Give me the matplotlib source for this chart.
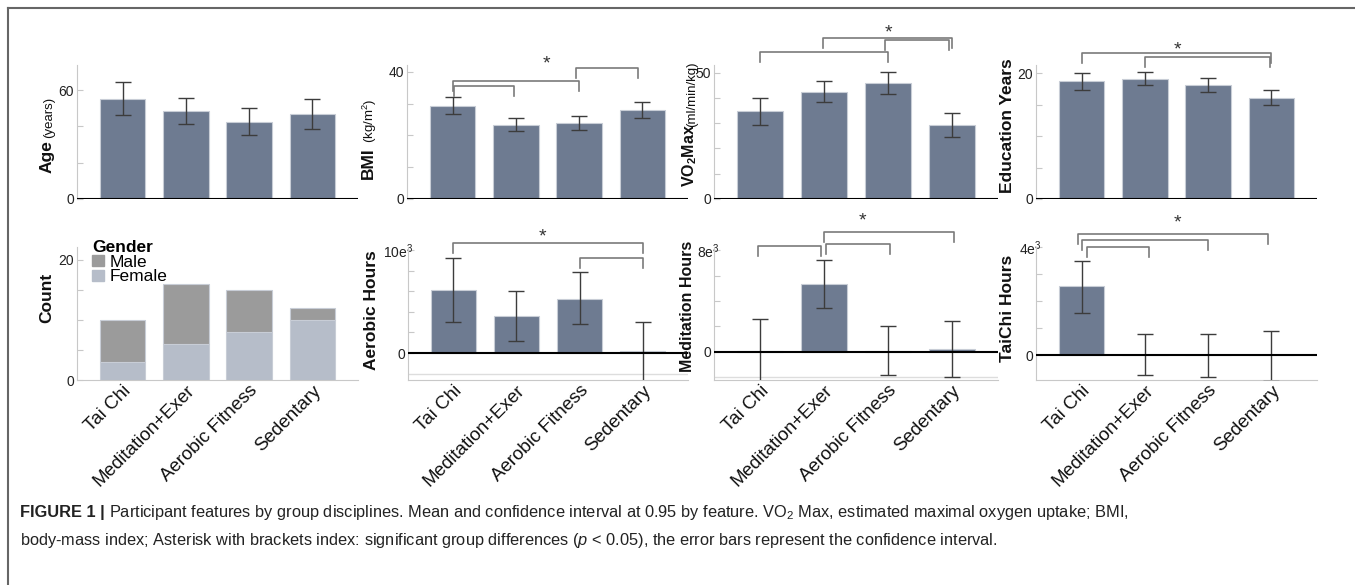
import numpy as np
import matplotlib
matplotlib.use('Agg')
import matplotlib.pyplot as plt
from matplotlib.patches import Patch
from matplotlib.transforms import ScaledTranslation

plt.rcParams['font.family'] = ['Liberation Sans', 'DejaVu Sans']
plt.rcParams['mathtext.fontset'] = 'custom'
plt.rcParams['mathtext.rm'] = 'Liberation Sans'
plt.rcParams['mathtext.it'] = 'Liberation Sans:italic'
plt.rcParams['mathtext.bf'] = 'Liberation Sans:bold'

# ---- data ----
groups = ['Tai Chi', 'Meditation+Exer', 'Aerobic Fitness', 'Sedentary']

age_mean = [55.0, 48.4, 42.4, 46.8]
age_lo = [46.2, 41.3, 35.2, 38.5]
age_hi = [64.4, 55.6, 50.1, 55.0]

bmi_mean = [29.3, 23.3, 23.9, 28.0]
bmi_lo = [26.8, 21.4, 21.7, 25.5]
bmi_hi = [32.1, 25.5, 26.1, 30.5]

vo2_mean = [34.7, 42.2, 45.7, 29.1]
vo2_lo = [29.2, 38.2, 41.7, 24.4]
vo2_hi = [39.8, 46.5, 50.4, 33.9]

edu_mean = [18.7, 19.0, 18.1, 16.0]
edu_lo = [17.3, 18.1, 17.0, 14.9]
edu_hi = [20.0, 20.2, 19.2, 17.3]

count_male = [7, 10, 7, 2]
count_female = [3, 6, 8, 10]

aerobic_mean = [6100, 3600, 5200, 150]
aerobic_lo = [3000, 1200, 2800, -2800]
aerobic_hi = [9200, 6000, 7900, 3000]

medit_mean = [100, 5300, 50, 200]
medit_lo = [-2400, 3450, -1800, -1950]
medit_hi = [2600, 7200, 2000, 2400]

taichi_mean = [2550, 20, 0, 0]
taichi_lo = [1570, -730, -790, -950]
taichi_hi = [3500, 800, 790, 900]

# significance brackets: (group a, group b, height) and asterisk (x, y)
bmi_pairs = [(0, 2, 37.2), (0.02, 0.97, 35.6), (1.95, 2.93, 41.3)]
bmi_star = (1.48, 42.5)
vo2_pairs = [(0, 2, 58.3), (0.98, 3, 63.8), (1.95, 2.95, 63.0)]
vo2_star = (2.0, 65.6)
edu_pairs = [(0, 3, 23.2), (1, 2.97, 22.6)]
edu_star = (1.52, 23.7)
aerobic_pairs = [(0, 3, 10680), (2, 3, 9220)]
aerobic_star = (1.42, 11300)
medit_pairs = [(-0.03, 0.95, 8310), (1.03, 2.03, 8470), (1.0, 3.03, 9410)]
medit_star = (1.6, 10250)
taichi_pairs = [(-0.06, 2.95, 4470), (0, 2.0, 4260), (0.08, 1.06, 4000)]
taichi_star = (1.52, 4900)

BAR = '#6e7b91'
EDGE = '#c8cdd6'
ERR = '#3c3c3c'
BRK = '#7a7a7a'
MALE = '#9b9b9b'
FEMALE = '#b6bdc9'
SPINE = '#c8c8c8'

W, H = 1355, 585
fig = plt.figure(figsize=(W / 100, H / 100), dpi=100)


def box(left, top, right, bottom):
    return [left / W, 1 - bottom / H, (right - left) / W, (bottom - top) / H]


def style_axes(ax, ylim, major, labels, minor):
    ax.set_xlim(-0.72, 3.72)
    ax.set_ylim(*ylim)
    for s in ['top', 'right']:
        ax.spines[s].set_visible(False)
    ax.spines['left'].set_color(SPINE)
    ax.spines['bottom'].set_color(SPINE)
    ax.set_yticks(major, labels)
    ax.set_yticks(minor, minor=True)
    ax.tick_params(axis='y', which='both', direction='in', length=4,
                   color=SPINE, width=0.8, labelsize=10, pad=2,
                   labelcolor='#222222')


def xlabels(ax):
    ax.set_xticks(np.arange(len(groups)), groups, rotation=45, ha='right',
                  rotation_mode='anchor', fontsize=13.5)
    ax.tick_params(axis='x', length=0, pad=1.5, labelcolor='#111111')


def bar_panel(rect, mean, lo, hi, ylim, major, labels, minor, bottom_row):
    ax = fig.add_axes(rect)
    x = np.arange(len(groups))
    mean = np.asarray(mean, dtype=float)
    lo = np.asarray(lo, dtype=float)
    hi = np.asarray(hi, dtype=float)
    ax.bar(x, mean, width=0.72, color=BAR, edgecolor=EDGE, linewidth=0.8,
           zorder=2)
    ax.errorbar(x, mean, yerr=[mean - lo, hi - mean], fmt='none', ecolor=ERR,
                elinewidth=1, capsize=6, capthick=1, zorder=3)
    ax.axhline(0, color='black', lw=1.5, zorder=4)
    style_axes(ax, ylim, major, labels, minor)
    if bottom_row:
        xlabels(ax)
        # the exponent label pokes past the spine, as in the original
        top_lab = ax.get_yticklabels()[-1]
        top_lab.set_transform(top_lab.get_transform() +
                              ScaledTranslation(0.08, 0, fig.dpi_scale_trans))
    else:
        ax.spines['bottom'].set_visible(False)
        ax.set_xticks([])
    return ax


def brackets(ax, pairs, star):
    y0, y1 = ax.get_ylim()
    leg = 10 * (y1 - y0) / (ax.get_position().height * H)
    for xa, xb, y in pairs:
        ax.plot([xa, xa, xb, xb], [y - leg, y, y, y - leg], color=BRK,
                lw=1.2, clip_on=False, zorder=5)
    ax.text(star[0], star[1], '*', ha='center', va='center', fontsize=14,
            color='#333333', clip_on=False)


# ---- top row ----
ax_age = bar_panel(box(77, 65, 358, 199), age_mean, age_lo, age_hi,
                   (0, 73.8), [0, 60], ['0', '60'], [20, 40], False)
ax_bmi = bar_panel(box(407, 65, 688, 199), bmi_mean, bmi_lo, bmi_hi,
                   (0, 42.2), [0, 40], ['0', '40'], [10, 20, 30], False)
brackets(ax_bmi, bmi_pairs, bmi_star)
ax_vo2 = bar_panel(box(714, 65, 998, 199), vo2_mean, vo2_lo, vo2_hi,
                   (0, 53.0), [0, 50], ['0', '50'], [10, 20, 30, 40], False)
brackets(ax_vo2, vo2_pairs, vo2_star)
ax_edu = bar_panel(box(1036, 65, 1317, 199), edu_mean, edu_lo, edu_hi,
                   (0, 21.3), [0, 20], ['0', '20'], [5, 10, 15], False)
brackets(ax_edu, edu_pairs, edu_star)

# ---- bottom row ----
ax_cnt = fig.add_axes(box(77, 247, 358, 380))
xg = np.arange(len(groups))
ax_cnt.bar(xg, count_female, width=0.72, color=FEMALE, edgecolor=EDGE,
           linewidth=0.8, label='Female', zorder=2)
ax_cnt.bar(xg, count_male, width=0.72, bottom=count_female, color=MALE,
           edgecolor=EDGE, linewidth=0.8, label='Male', zorder=2)
style_axes(ax_cnt, (0, 22.1), [0, 20], ['0', '20'], [5, 10, 15])
xlabels(ax_cnt)
ax_cnt.legend(handles=[Patch(color=MALE), Patch(color=FEMALE)],
              labels=['Male', 'Female'], title='Gender',
              loc='upper left', bbox_to_anchor=(92 / W, 1 - 240 / H),
              bbox_transform=fig.transFigure, frameon=False,
              fontsize=12.5, labelspacing=-0.02, handlelength=0.7,
              handleheight=0.6, handletextpad=0.3, borderpad=0,
              borderaxespad=0, alignment='left',
              title_fontproperties={'weight': 'bold', 'size': 12.5})

ax_aer = bar_panel(box(408, 247, 688, 380), aerobic_mean, aerobic_lo,
                   aerobic_hi, (-2620, 10290), [0, 10000],
                   ['0', '10e$^3$'], [2000, 4000, 6000, 8000], True)
ax_aer.axhline(-2000, color='#dddddd', lw=1, zorder=1)
brackets(ax_aer, aerobic_pairs, aerobic_star)

ax_med = bar_panel(box(714, 247, 998, 380), medit_mean, medit_lo, medit_hi,
                   (-2200, 8240), [0, 8000], ['0', '8e$^3$'],
                   [2000, 4000, 6000], True)
ax_med.axhline(-2000, color='#dddddd', lw=1, zorder=1)
brackets(ax_med, medit_pairs, medit_star)

ax_tc = bar_panel(box(1036, 247, 1317, 380), taichi_mean, taichi_lo,
                  taichi_hi, (-910, 4000), [0, 4000], ['0', '4e$^3$'],
                  [1000, 2000, 3000], True)
brackets(ax_tc, taichi_pairs, taichi_star)


# ---- y labels ----
def ylab(x, y, s, size=12.5, weight='bold'):
    fig.text(x / W, 1 - y / H, s, rotation=90, ha='center', va='bottom',
             fontsize=size, fontweight=weight, color='#111111')


ylab(47, 173, 'Age')
ylab(49, 138, '(years)', size=9.5, weight='normal')
ylab(368, 179, 'BMI')
ylab(370, 143, '(kg/m$^2$)', size=9.5, weight='normal')
ylab(690, 187, r'VO$_\mathbf{2}$Max', size=11.5)
ylab(692, 127, '(ml/min/kg)', size=9.5, weight='normal')
ylab(1008, 193, 'Education Years')
ylab(47, 323, 'Count')
ylab(372, 370, 'Aerobic Hours')
ylab(687, 372, 'Meditation Hours', size=11.5)
ylab(1008, 362, 'TaiChi Hours')

# ---- border and caption ----
fig.add_artist(plt.Line2D([8 / W, 1], [1 - 8 / H, 1 - 8 / H],
                          transform=fig.transFigure, color='#666666', lw=1.5))
fig.add_artist(plt.Line2D([8 / W, 8 / W], [0, 1 - 8 / H],
                          transform=fig.transFigure, color='#666666', lw=1.5))

t1 = fig.text(20 / W, 1 - 513 / H, 'FIGURE 1 |', fontsize=11.8,
              fontweight='bold', va='center', color='#222222')
fig.canvas.draw()
bb = t1.get_window_extent(fig.canvas.get_renderer())
fig.text(bb.x1 / W + 4 / W, 1 - 513 / H,
         'Participant features by group disciplines. Mean and confidence '
         'interval at 0.95 by feature. VO$_2$ Max, estimated maximal oxygen '
         'uptake; BMI,', fontsize=11.8, va='center', color='#222222')
fig.text(20 / W, 1 - 541 / H,
         'body-mass index; Asterisk with brackets index: significant group '
         'differences ($p$ < 0.05), the error bars represent the confidence '
         'interval.', fontsize=11.8, va='center', color='#222222')

fig.savefig('out.png', dpi=100)
